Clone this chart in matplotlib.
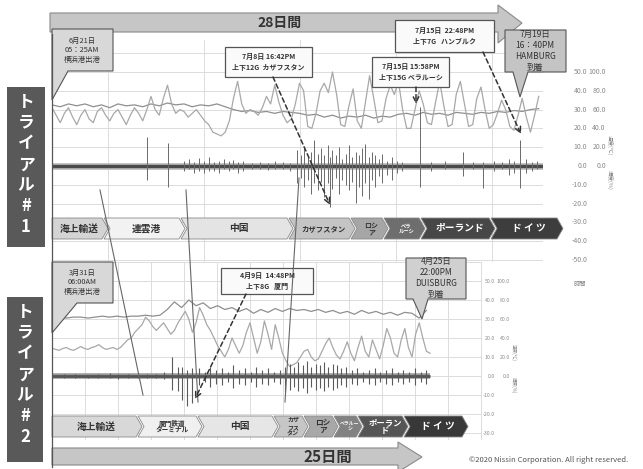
import numpy as np
import matplotlib
matplotlib.use('Agg')
import matplotlib.pyplot as plt
import matplotlib.transforms as mtransforms
from matplotlib.patches import Polygon, Rectangle

plt.rcParams['font.family'] = ['Noto Sans CJK JP', 'DejaVu Sans']

# ---- trial 1 (6/21 -> 7/19), days since departure ----
# humidity [%], half-day steps
hum1 = [65, 63, 66, 64, 66, 63, 65, 62, 66, 64, 65, 63, 66, 64, 67, 65, 66, 63, 65, 64, 66, 63,
        60, 58, 59, 57, 58, 56, 58, 57,
        56, 54, 55, 52, 54, 51, 53, 52, 54, 51, 53, 52,
        55, 56, 54, 57, 55, 56, 54, 57, 56, 55, 57, 56, 58, 57, 59, 58, 60, 61]
# temperature [C], quarter-day steps
temp1 = [31, 27, 23, 28, 31, 26, 22, 27, 30, 25, 23, 29, 31, 27, 24, 28, 30, 26, 22, 27,
         31, 28, 24, 30, 37, 30, 27, 36, 43, 33, 28, 30, 29, 26, 28, 30, 27, 24, 22, 18,
         17, 16, 18, 24, 36, 45, 33, 28, 30, 29, 27, 31, 37, 33, 43, 34, 27, 23, 25, 33,
         44, 40, 21, 20, 28, 40, 44, 39, 50, 38, 22, 21, 32, 41, 24, 20, 34, 48, 36, 23,
         24, 36, 43, 38, 45, 30, 20, 20, 30, 40, 33, 23, 22, 34, 45, 32, 21, 22, 38, 45,
         33, 21, 22, 36, 42, 30, 20, 22, 28, 35, 30, 21, 19, 27, 36, 26, 18, 27, 37]
# shock events [G]
shock1_day = [5.76, 7.03, 8.0, 8.3, 8.6, 8.9, 9.2, 9.5, 9.8, 10.1, 10.4, 10.7, 11.0, 11.3, 11.6,
              12.1, 12.6, 13.1, 13.5, 14.0, 14.4, 14.85, 15.1, 15.3, 15.5, 15.7, 15.9, 16.1, 16.3,
              16.5, 16.7, 16.85, 17.0, 17.2, 17.4, 17.6, 17.8, 18.0, 18.2, 18.4, 18.6, 18.8, 19.0,
              19.2, 19.4, 19.6, 19.8, 20.0, 20.3, 20.6, 20.9, 21.2, 22.3, 23.0, 23.8, 24.9, 25.5,
              26.1, 26.8, 27.3, 27.7, 28.0, 28.36, 28.7, 29.1, 29.4]
shock1_hi = [8.3, 6.6, 1.5, 2.0, 1.2, 2.3, 1.5, 2.5, 1.0, 1.5, 2.0, 1.5, 1.8, 1.0, 1.5,
             0.8, 1.2, 0.8, 1.5, 1.0, 0.8, 4.6, 3.0, 5.5, 2.5, 4.0, 7.4, 3.5, 5.0,
             3.0, 6.0, 2.5, 4.5, 3.0, 5.5, 2.0, 3.5, 6.0, 2.5, 4.0, 3.0, 5.0, 6.2,
             2.5, 4.0, 3.0, 2.0, 3.5, 1.5, 2.5, 1.5, 1.0, 16.8, 1.0, 1.5, 4.0, 1.0,
             1.0, 1.5, 1.0, 2.0, 1.5, 7.4, 2.0, 1.0, 1.5]
shock1_lo = [-4.0, -6.0, -1.5, -1.0, -2.0, -1.5, -2.0, -1.5, -1.5, -2.0, -1.0, -1.5, -1.0, -2.0, -1.5,
             -1.0, -0.8, -1.2, -1.0, -0.8, -1.5, -4.9, -3.5, -6.0, -4.0, -8.0, -5.0, -7.0, -4.5,
             -9.0, -5.0, -11.7, -6.5, -3.5, -8.0, -4.0, -5.5, -7.0, -4.5, -10.6, -6.0, -8.5, -5.0,
             -9.5, -4.0, -6.0, -3.0, -5.0, -2.5, -4.0, -2.0, -1.5, -6.0, -1.5, -1.0, -3.0, -1.0,
             -6.3, -1.5, -1.0, -2.5, -2.0, -6.3, -2.0, -1.5, -1.0]

# ---- trial 2 (3/31 -> 4/25) ----
hum2 = [61, 62, 61, 62, 62, 61, 62, 63, 62, 63, 62, 63, 63, 64, 63, 64, 70, 78, 72, 80,
        74, 77, 71, 74, 70, 72, 68, 71, 66, 70, 67, 71, 68, 71, 69, 70, 68, 70, 67, 69,
        66, 68, 65, 69, 66, 68, 65, 67, 64, 67, 66, 61, 69]
temp2 = [14.7, 14, 13.5, 14.5, 15, 14, 13.5, 14.5, 15.5, 14.5, 14, 15, 15.5, 16.5, 15, 14,
         14.5, 15, 14, 15, 17, 19, 20, 23, 25, 27, 31, 29, 26, 24, 26, 28, 25, 22, 24, 28,
         31, 34, 30, 23, 28, 36, 32, 27, 24, 20, 16, 13, 10, 14, 20, 16, 12, 16, 23, 28,
         20, 12, 18, 29, 22, 14, 27, 20, 12, 8, 5, 6, 7, 10, 13, 14, 10, 8, 9, 13,
         17, 20, 15, 11, 9, 13, 18, 12, 8, 15, 21, 13, 10, 19, 14, 9, 16, 25, 20, 12,
         10, 19, 25, 15, 10, 22, 28, 20, 13, 12]
shock2_day = [0.8, 1.6, 2.5, 3.2, 4.0, 4.6, 5.3, 6.0, 6.6, 7.2, 7.8, 8.33, 8.75, 9.0, 9.4, 9.7,
              10.2, 10.6, 11.0, 11.4, 11.8, 12.2, 12.6, 13.0, 13.4, 13.8, 14.2, 14.6, 15.0, 15.4,
              15.8, 16.2, 16.5, 16.8, 17.1, 17.4, 17.7, 18.0, 18.3, 18.6, 18.9, 19.2, 19.5, 19.8,
              20.1, 20.4, 20.8, 21.2, 21.6, 22.0, 22.4, 22.8, 23.2, 23.6, 24.0, 24.4, 24.8, 25.2,
              25.6, 26.0]
shock2_hi = [0.6, 0.8, 0.5, 0.7, 0.9, 0.6, 0.8, 0.5, 0.7, 0.6, 1.2, 6.3, 3.0, 3.0, 2.0, 2.5,
             2.5, 1.5, 3.0, 2.0, 2.5, 1.5, 3.5, 2.0, 2.5, 1.5, 3.0, 2.0, 2.5, 1.5,
             2.0, 3.0, 4.0, 3.0, 4.5, 3.5, 5.0, 3.0, 4.0, 3.5, 4.5, 3.0, 4.0, 3.5,
             2.5, 3.0, 2.0, 2.5, 1.5, 2.0, 2.5, 1.5, 2.0, 2.5, 1.5, 2.0, 1.5, 2.5,
             1.5, 2.0]
shock2_lo = [-0.6, -0.5, -0.8, -0.6, -0.5, -0.9, -0.6, -0.7, -0.5, -0.8, -1.0, -4.7, -5.0, -8.0, -10.0, -9.0,
             -3.0, -2.0, -3.5, -2.5, -3.0, -2.0, -4.0, -2.5, -3.0, -2.0, -3.5, -2.5, -3.0, -2.0,
             -2.5, -5.3, -4.5, -3.5, -5.0, -4.0, -5.5, -3.5, -4.5, -4.0, -5.0, -3.5, -4.5, -4.0,
             -3.0, -3.5, -2.5, -3.0, -2.0, -2.5, -3.0, -2.0, -2.5, -3.0, -2.0, -2.5, -2.0, -3.0,
             -2.0, -2.5]

temp_ticks1 = [50, 40, 30, 20, 10, 0, -10, -20, -30, -40, -50]
temp_ticks2 = [50, 40, 30, 20, 10, 0, -10, -20, -30]
hum_ticks = [100, 80, 60, 40, 20, 0]

stages1 = ['海上輸送', '連雲港', '中国', 'カザフスタン', 'ロシ\nア', 'ベラ\nルーシ', 'ポーランド', 'ド イ ツ']
stages2 = ['海上輸送', '厦門鉄道\nターミナル', '中国', 'カザ\nフス\nタン', 'ロシ\nア', 'ベラルー\nシ', 'ポーラン\nド', 'ド イ ツ']

W, H = 643, 469
fig = plt.figure(figsize=(6.43, 4.69), dpi=100)
fig.patch.set_facecolor('white')


def pax(x0, y0, x1, y1):
    return fig.add_axes([x0 / W, 1 - y1 / H, (x1 - x0) / W, (y1 - y0) / H], zorder=1)


def style(ax, xt, yt):
    ax.set_facecolor('none')
    for s in ax.spines.values():
        s.set_visible(False)
    ax.set_xticks(xt)
    ax.set_yticks(yt)
    ax.tick_params(length=0, labelleft=False, labelbottom=False)
    ax.grid(True, color='#dcdcdc', lw=0.7)


# --- trial 1 chart ---
ax1 = pax(52, 40, 543, 262)
ax1.set_xlim(0, 29.76)
ax1.set_ylim(-51.06, 67.0)
style(ax1, 3.4 + 5.82 * np.arange(5), np.arange(-50, 70, 10))
d_h1 = np.arange(len(hum1)) * 0.5
d_t1 = np.arange(len(temp1)) * 0.25
ax1.plot(d_h1, np.array(hum1) / 2, color='#8f8f8f', lw=0.9)
ax1.plot(d_t1, temp1, color='#a8a8a8', lw=0.9)
k1 = 1.86
ax1.axhline(0, color='#c4c4c4', lw=5)
ax1.axhline(0, color='#4a4a4a', lw=2.5)
ax1.vlines(shock1_day, np.array(shock1_lo) * k1, np.array(shock1_hi) * k1, color='#6a6a6a', lw=0.7)

tr1 = mtransforms.blended_transform_factory(ax1.transAxes, ax1.transData)
for v in temp_ticks1:
    ax1.text(1.090, v, f'{v:.1f}', ha='right', va='center', fontsize=5, color='#8a8a8a', transform=tr1)
for v, h in zip(temp_ticks1, hum_ticks):
    ax1.text(1.128, v, f'{h:.1f}', ha='right', va='center', fontsize=5, color='#8a8a8a', transform=tr1)

# --- trial 2 chart ---
ax2 = pax(52, 262, 482, 440)
ax2.set_xlim(0, 29.86)
ax2.set_ylim(-33.68, 60)
style(ax2, 2.29 * np.arange(1, 14), np.arange(-30, 70, 10))
d_h2 = np.arange(len(hum2)) * 0.5
d_t2 = np.arange(len(temp2)) * 0.25
ax2.plot(d_h2, np.array(hum2) / 2, color='#8f8f8f', lw=0.9)
ax2.plot(d_t2, temp2, color='#a8a8a8', lw=0.9)
k2 = 1.58
ax2.hlines(0, 0, d_t2[-1], color='#9a9a9a', lw=4)
ax2.hlines(0, 0, d_t2[-1], color='#555555', lw=2)
ax2.vlines(shock2_day, np.array(shock2_lo) * k2, np.array(shock2_hi) * k2, color='#5a5a5a', lw=0.8)

tr2 = mtransforms.blended_transform_factory(ax2.transAxes, ax2.transData)
for v in temp_ticks2:
    ax2.text(1.030, v, f'{v:.1f}', ha='right', va='center', fontsize=3.8, color='#8a8a8a', transform=tr2)
for v, h in zip(temp_ticks2, hum_ticks):
    ax2.text(1.065, v, f'{h:.1f}', ha='right', va='center', fontsize=3.8, color='#8a8a8a', transform=tr2)

# --- overlay for decorations (pixel coordinates) ---
ov = fig.add_axes([0, 0, 1, 1], zorder=5)
ov.set_xlim(0, W)
ov.set_ylim(H, 0)
ov.axis('off')
ov.patch.set_alpha(0)

# left frame line
ov.plot([52, 52], [34, 467], color='#555555', lw=0.9)

# connector lines between trials
for (xa, ya, xb, yb) in [(100, 190, 143, 395), (186, 190, 198, 402), (299, 178, 285, 402)]:
    ov.plot([xa, xb], [ya, yb], color='#666666', lw=0.8)

# banners
ov.add_patch(Polygon([(50, 13), (498, 13), (498, 5), (522, 23), (498, 43), (498, 32), (50, 32)],
                     fc='#c6c6c6', ec='#8a8a8a', lw=0.8))
ov.text(280, 23, '28日間', ha='center', va='center', fontsize=10, fontweight='bold', color='#333333')
ov.add_patch(Polygon([(52, 448), (398, 448), (398, 442), (422, 457), (398, 472), (398, 465), (52, 465)],
                     fc='#c6c6c6', ec='#8a8a8a', lw=0.8))
ov.text(328, 457, '25日間', ha='center', va='center', fontsize=11, fontweight='bold', color='#333333')

# trial labels
for (x0, y0, x1, y1, ch, ystart) in [(7, 87, 45, 247, '1', 102), (7, 297, 43, 462, '2', 312)]:
    ov.add_patch(Rectangle((x0, y0), x1 - x0, y1 - y0, fc='#595959', ec='none'))
    for i, c in enumerate(['ト', 'ラ', 'イ', 'ア', 'ル', '#', ch]):
        ov.text((x0 + x1) / 2, ystart + 20.8 * i, c, ha='center', va='center', fontsize=12,
                fontweight='bold', color='white')


def chevrons(names, edges, y0, y1, fills, tcols, sizes):
    d = 6
    ym = (y0 + y1) / 2
    for i, name in enumerate(names):
        xs = 52 if i == 0 else edges[i - 1] - d + 2
        xe = edges[i]
        pts = [(xs, y0), (xe - d, y0), (xe, ym), (xe - d, y1), (xs, y1)]
        if i > 0:
            pts.append((xs + d, ym))
        ov.add_patch(Polygon(pts, closed=True, fc=fills[i], ec='#8a8a8a', lw=0.6))
        ov.text((xs + xe) / 2 + (2 if i > 0 else -1), ym, name, ha='center', va='center',
                fontsize=sizes[i], fontweight='bold', color=tcols[i], linespacing=0.95)


chevrons(stages1, [108, 185, 293, 355, 388, 425, 495, 563], 218, 239,
         ['#d4d4d4', '#f2f2f2', '#e4e4e4', '#c4c4c4', '#a6a6a6', '#6e6e6e', '#474747', '#3d3d3d'],
         ['#333333'] * 5 + ['white'] * 3, [7, 7, 7, 5.3, 5, 3.8, 7, 7])
chevrons(stages2, [142, 202, 278, 308, 338, 362, 408, 468], 416, 437,
         ['#d8d8d8', '#f0f0f0', '#e6e6e6', '#c6c6c6', '#a8a8a8', '#828282', '#555555', '#383838'],
         ['#333333'] * 5 + ['white'] * 3, [7, 4.8, 7, 4.3, 5.5, 3.5, 6, 7])


def callout(pts, fc, cx, cy, txt, fs):
    ov.add_patch(Polygon(pts, closed=True, fc=fc, ec='#555555', lw=0.8))
    ov.text(cx, cy, txt, ha='center', va='center', fontsize=fs, color='#333333', linespacing=1.25)


callout([(52, 29), (113, 29), (113, 71), (68, 71), (52, 100)], '#d8d8d8', 82, 50,
        '6月21日\n05：25AM\n横浜港出港', 5.3)
callout([(52, 262), (113, 262), (113, 303), (77, 303), (52, 333)], '#d8d8d8', 82, 282,
        '3月31日\n06:00AM\n横浜港出港', 5.3)
callout([(505, 30), (566, 30), (566, 72), (528, 72), (520, 97), (513, 72), (505, 72)], '#c4c4c4',
        535, 51, '7月19日\n16：40PM\nHAMBURG\n到着', 6)
callout([(406, 258), (466, 258), (466, 299), (428, 299), (422, 319), (413, 299), (406, 299)], '#d0d0d0',
        436, 278, '4月25日\n22:00PM\nDUISBURG\n到着', 6)


def event_box(x0, y0, x1, y1, txt, start, end):
    ov.annotate('', xy=end, xytext=start,
                arrowprops=dict(arrowstyle='->', linestyle=(0, (3, 2)), lw=1.1, color='#333333',
                                shrinkA=0, shrinkB=0))
    ov.add_patch(Rectangle((x0, y0), x1 - x0, y1 - y0, fc='#fafafa', ec='#555555', lw=0.9))
    ov.text((x0 + x1) / 2, (y0 + y1) / 2, txt, ha='center', va='center', fontsize=5,
            fontweight='bold', color='#333333', linespacing=1.6)


event_box(225, 47, 312, 77, '7月8日 16:42PM\n上下12G  カザフスタン', (273, 77), (330, 205))
event_box(395, 20, 494, 52, '7月15日  22:48PM\n上下7G   ハンブルク', (483, 52), (521, 134))
event_box(372, 57, 449, 87, '7月15日 15:58PM\n上下15G ベラルーシ', (416, 87), (416, 104))
event_box(221, 268, 313, 294, '4月9日  14:48PM\n上下8G   厦門', (246, 294), (195, 399))

# axis titles
ov.text(610, 145, '温度(℃)', rotation=270, ha='center', va='center', fontsize=4, color='#888888')
ov.text(610, 180, '湿度(%)', rotation=270, ha='center', va='center', fontsize=4, color='#888888')
ov.text(514, 352, '温度(℃)', rotation=270, ha='center', va='center', fontsize=3.3, color='#888888')
ov.text(514, 385, '湿度(%)', rotation=270, ha='center', va='center', fontsize=3.3, color='#888888')
ov.text(580, 284, '時間', ha='center', va='center', fontsize=4.5, color='#888888')

ov.text(549, 460, '©2020 Nissin Corporation. All right reserved.', ha='center', va='center',
        fontsize=5.5, color='#555555')

fig.savefig('out.png', dpi=100)
